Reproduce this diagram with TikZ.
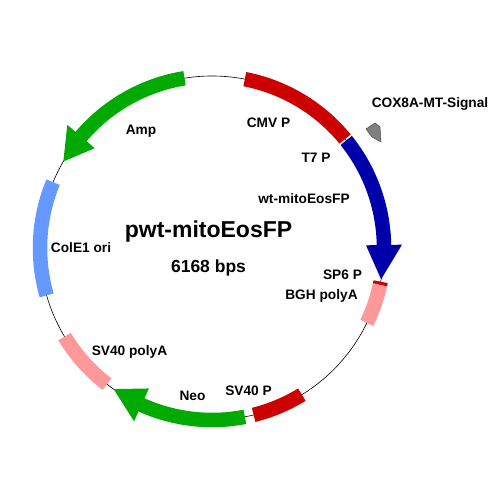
\documentclass[tikz,border=0pt]{standalone}
\usepackage{fontspec}
\setmainfont{Liberation Sans}
\definecolor{promred}{HTML}{CC0000}
\definecolor{cdsblue}{HTML}{0000AA}
\definecolor{markergreen}{HTML}{00AA00}
\definecolor{polyapink}{HTML}{FF9999}
\definecolor{oriblue}{HTML}{6699FF}
\definecolor{sitegray}{HTML}{808080}
\begin{document}
\begin{tikzpicture}
          [x=1pt,y=1pt,every node/.style={font=\bfseries\fontsize{13.7}{16}\selectfont, inner sep=0pt, anchor=base}]
        \useasboundingbox (-212,-252) rectangle (288,248);
        \draw[line width=0.6pt] (0,0) circle[radius=172];

        % plain features
        \foreach \from/\to/\col in {79/39.3/promred, -76/-58.5/promred, -11.3/-12.4/promred, -12.4/-25.8/polyapink, 211/232.4/polyapink, 157.5/196/oriblue}
          \fill[\col] (\from:179.25) arc[start angle=\from, end angle=\to, radius=179.25] -- (\to:164.75) arc[start angle=\to, end angle=\from, radius=164.75] -- cycle;

        % arrows
        \foreach \from/\base/\tip/\col in {99.2/139.6/149.8/markergreen, 38.7/1/-10.5/cdsblue, -79/-114.2/-124.9/markergreen}
          \fill[\col] (\from:179.25) arc[start angle=\from, end angle=\base, radius=179.25] -- (\base:190) -- (\tip:172) -- (\base:154) -- (\base:164.75) arc[start angle=\base, end angle=\from, radius=164.75] -- cycle;

        \filldraw[fill=sitegray, draw=black!70, line width=0.5pt] (154,119) -- (163,125) -- (168,121) -- (169,106) -- (160,111) -- cycle;

        \node[font=\bfseries\fontsize{23}{27}\selectfont] (title) at (-3.5,10) {pwt-mitoEosFP};
        \node[font=\bfseries\fontsize{17.5}{20}\selectfont] (size) at (-3.5,-25) {6168 bps};
        \node (cmv) at (56.5,120) {CMV P};
        \node (t7) at (104,85) {T7 P};
        \node (eos) at (92,44) {wt-mitoEosFP};
        \node (sp6) at (130.5,-32) {SP6 P};
        \node (bgh) at (109.5,-52) {BGH polyA};
        \node (svpa) at (-82.5,-107) {SV40 polyA};
        \node (neo) at (-19.5,-152) {Neo};
        \node (svp) at (36.5,-147) {SV40 P};
        \node (amp) at (-71,113) {Amp};
        \node (ori) at (-131,-5) {ColE1 ori};
        \node (cox) at (218,140) {COX8A-MT-Signal};
      \end{tikzpicture}
\end{document}
